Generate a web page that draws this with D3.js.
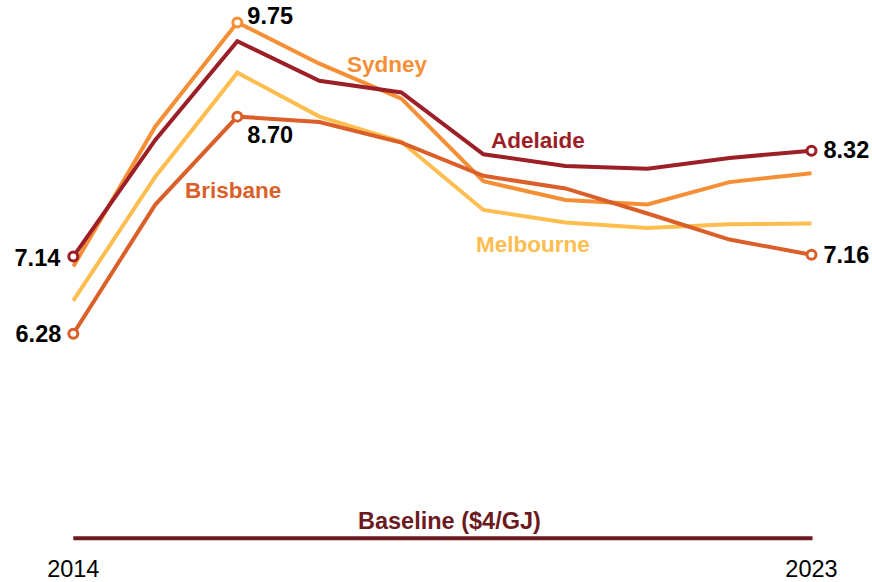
<!DOCTYPE html>
<html>
<head>
<meta charset="utf-8">
<script src="https://cdn.jsdelivr.net/npm/d3@7"></script>
<style>
  html, body { margin: 0; padding: 0; background: #fff; }
  svg { display: block; font-family: "Liberation Sans", Arial, Helvetica, sans-serif; }
</style>
</head>
<body>
<svg id="chart" width="872" height="582"></svg>
<script>
const years = [2014, 2015, 2016, 2017, 2018, 2019, 2020, 2021, 2022, 2023];
const melbourne = [6.65, 8.03, 9.19, 8.70, 8.42, 7.66, 7.52, 7.46, 7.50, 7.51];
const sydney    = [7.03, 8.59, 9.75, 9.29, 8.90, 7.98, 7.77, 7.72, 7.97, 8.07];
const brisbane  = [6.28, 7.72, 8.70, 8.64, 8.41, 8.04, 7.90, 7.62, 7.33, 7.16];
const adelaide  = [7.14, 8.44, 9.54, 9.10, 8.97, 8.28, 8.15, 8.12, 8.24, 8.32];
const baselineValue = 4;
const baselineLabel = "Baseline ($4/GJ)";
const yearLabels = ["2014", "2023"];

const series = [
  { name: "Melbourne", values: melbourne, color: "#FDBD4F", label: { x: 476, y: 251.5 } },
  { name: "Sydney",    values: sydney,    color: "#F58F36", label: { x: 347, y: 72 } },
  { name: "Brisbane",  values: brisbane,  color: "#DA5F29", label: { x: 185, y: 197.5 } },
  { name: "Adelaide",  values: adelaide,  color: "#9C1E26", label: { x: 491, y: 148 } }
];

const svg = d3.select("#chart");
const x = d3.scaleLinear().domain([2014, 2023]).range([73.3, 811.5]);
const y = d3.scaleLinear().domain([4, 10]).range([538.3, 0]);

// Baseline
svg.append("line")
  .attr("x1", x(2014)).attr("x2", x(2023) + 1)
  .attr("y1", y(baselineValue)).attr("y2", y(baselineValue))
  .attr("stroke", "#6B1A1D").attr("stroke-width", 4);
svg.append("text")
  .attr("x", 358).attr("y", 528.5)
  .attr("font-size", 23.5).attr("font-weight", "bold")
  .attr("fill", "#6B1A1D")
  .text(baselineLabel);

// Year labels
svg.selectAll("text.year").data(yearLabels).enter().append("text")
  .attr("class", "year")
  .attr("x", d => x(+d)).attr("y", 577)
  .attr("text-anchor", "middle")
  .attr("font-size", 23.5).attr("fill", "#000")
  .text(d => d);

const line = d3.line().x((d, i) => x(years[i])).y(d => y(d));

series.forEach(s => {
  svg.append("path")
    .datum(s.values)
    .attr("d", line)
    .attr("fill", "none")
    .attr("stroke", s.color)
    .attr("stroke-width", 4)
    .attr("stroke-linejoin", "miter")
    .attr("stroke-linecap", "butt");
});

series.forEach(s => {
  svg.append("text")
    .attr("x", s.label.x).attr("y", s.label.y)
    .attr("font-size", 22.5).attr("font-weight", "bold")
    .attr("fill", s.color)
    .text(s.name);
});

// Markers with value labels
const markers = [
  { s: series[1], i: 2, anchor: "start", dx: 10, dy: 1.5 },
  { s: series[2], i: 2, anchor: "start", dx: 10, dy: 26 },
  { s: series[3], i: 0, anchor: "end", dx: -13, dy: 9 },
  { s: series[2], i: 0, anchor: "end", dx: -12, dy: 8 },
  { s: series[3], i: 9, anchor: "start", dx: 12, dy: 7.5 },
  { s: series[2], i: 9, anchor: "start", dx: 12, dy: 8 }
];

markers.forEach(m => {
  const cx = x(years[m.i]), cy = y(m.s.values[m.i]);
  svg.append("circle")
    .attr("cx", cx).attr("cy", cy).attr("r", 4.5)
    .attr("fill", "#fff").attr("stroke", m.s.color).attr("stroke-width", 3);
  svg.append("text")
    .attr("x", cx + m.dx).attr("y", cy + m.dy)
    .attr("text-anchor", m.anchor)
    .attr("font-size", 23.5).attr("font-weight", "bold")
    .attr("fill", "#000")
    .text(m.s.values[m.i].toFixed(2));
});
</script>
</body>
</html>
